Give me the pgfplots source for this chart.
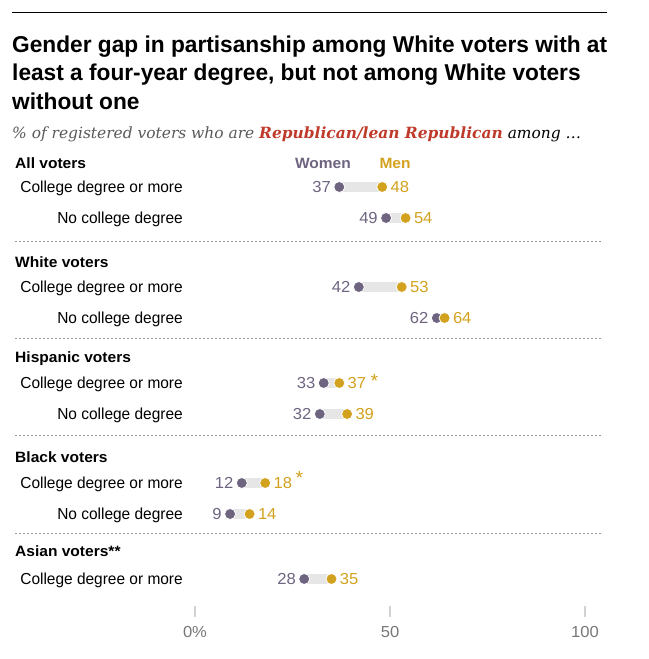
\documentclass[border=0pt]{standalone}
\usepackage{fontspec}
\usepackage{pgfplots}
\usepackage{pgfplotstable}
\pgfplotsset{compat=1.18}
\setmainfont{Liberation Sans}
\newfontfamily\titlefont[FakeStretch=0.99]{Liberation Sans}
\newfontfamily\bodyfont[FakeStretch=0.97]{Liberation Sans}
\newfontfamily\headfont[FakeStretch=1.04]{Liberation Sans}
\newfontfamily\subfont{DejaVu Serif}

\definecolor{women}{HTML}{6E6480}
\definecolor{men}{HTML}{D2A21E}
\definecolor{gapbar}{HTML}{E6E6E6}
\definecolor{repred}{HTML}{BF3A2B}
\definecolor{subgray}{HTML}{595959}
\definecolor{tickgray}{HTML}{777777}
\definecolor{rulegray}{HTML}{999999}

% y = row centre in pixels from the top
\pgfplotstableread{
y women men
187 37 48
218 49 54
287 42 53
318 62 64
383 33 37
414 32 39
483 12 18
514 9 14
579 28 35
}\gapdata

\tikzset{
  head/.style={anchor=base west, inner sep=0, font=\headfont\bfseries\fontsize{15}{18}\selectfont},
  rowlab/.style={anchor=base east, inner sep=0, font=\bodyfont\fontsize{16}{19}\selectfont},
  ttl/.style={anchor=base west, inner sep=0, font=\titlefont\bfseries\fontsize{23}{27}\selectfont},
  num/.style={inner sep=0, font=\headfont\fontsize{16}{19}\selectfont},
  star/.style={inner sep=0, text=men, font=\headfont\fontsize{19}{20}\selectfont},
}

\begin{document}
\begin{tikzpicture}
\begin{axis}[
  scale only axis,
  width=649bp, height=659bp,
  xmin=-50, xmax=116.41,
  ymin=0, ymax=659,
  y dir=reverse,
  axis lines=none,
  ticks=none,
  clip=false,
]
% fix the picture to the full frame
\path (axis cs:-50,0) rectangle (axis cs:116.41,659);

% top rule
\addplot[black, line width=1bp] coordinates {(-46.92,13) (105.64,13)};

% title and subtitle
\node[ttl] at (axis cs:-46.92,53) {Gender gap in partisanship among White voters with at};
\node[ttl] at (axis cs:-46.92,81) {least a four-year degree, but not among White voters};
\node[ttl] at (axis cs:-46.92,109) {without one};
\node[anchor=base west, inner sep=0, font=\subfont\itshape\fontsize{15.5}{18}\selectfont, text=subgray]
  at (axis cs:-46.92,138) {\% of registered voters who are \textcolor{repred}{\bfseries Republican/lean Republican} \textcolor{black}{among \dots}};

% legend
\node[font=\headfont\bfseries\fontsize{15}{18}\selectfont, text=women] at (axis cs:32.8,163) {Women};
\node[font=\headfont\bfseries\fontsize{15}{18}\selectfont, text=men] at (axis cs:51.3,163) {Men};

% group headers
\node[head] at (axis cs:-46.15,168) {All voters};
\node[head] at (axis cs:-46.15,267) {White voters};
\node[head] at (axis cs:-46.15,362) {Hispanic voters};
\node[head] at (axis cs:-46.15,462) {Black voters};
\node[head] at (axis cs:-46.15,556) {Asian voters**};

% row labels
\node[rowlab] at (axis cs:-3.08,192) {College degree or more};
\node[rowlab] at (axis cs:-3.08,223) {No college degree};
\node[rowlab] at (axis cs:-3.08,292) {College degree or more};
\node[rowlab] at (axis cs:-3.08,323) {No college degree};
\node[rowlab] at (axis cs:-3.08,388) {College degree or more};
\node[rowlab] at (axis cs:-3.08,419) {No college degree};
\node[rowlab] at (axis cs:-3.08,488) {College degree or more};
\node[rowlab] at (axis cs:-3.08,519) {No college degree};
\node[rowlab] at (axis cs:-3.08,584) {College degree or more};

% dotted separators
\pgfplotsinvokeforeach{241,338,435,533}{
  \draw[rulegray, line width=0.8bp, dash pattern=on 2bp off 2bp]
    (axis cs:-46.15,#1) -- (axis cs:104.62,#1);
}

% gap bars
\addplot[draw=none, mark=none,
  error bars/.cd, x dir=plus, x explicit,
  error mark=none, error bar style={gapbar, line width=10bp}]
  table[x=women, y=y, x error expr=\thisrow{men}-\thisrow{women}] {\gapdata};

% women dots
\addplot[only marks, mark=*, mark size=5.5bp,
  mark options={fill=women, draw=white, line width=0.8bp},
  nodes near coords, point meta=explicit symbolic,
  nodes near coords style={num, anchor=east, xshift=-8bp, text=women}]
  table[x=women, y=y, meta=women] {\gapdata};

% men dots
\addplot[only marks, mark=*, mark size=5.5bp,
  mark options={fill=men, draw=white, line width=0.8bp},
  nodes near coords, point meta=explicit symbolic,
  nodes near coords style={num, anchor=west, xshift=8bp, text=men}]
  table[x=men, y=y, meta=men] {\gapdata};

% significance asterisks
\node[star] at (axis cs:46.0,381) {*};
\node[star] at (axis cs:26.8,478) {*};

% x axis ticks
\addplot[gapbar!80!gray, line width=1.5bp] coordinates {(0,606) (0,617)};
\addplot[gapbar!80!gray, line width=1.5bp] coordinates {(50,606) (50,617)};
\addplot[gapbar!80!gray, line width=1.5bp] coordinates {(100,606) (100,617)};
\node[num, text=tickgray] at (axis cs:0,632) {0\%};
\node[num, text=tickgray] at (axis cs:50,632) {50};
\node[num, text=tickgray] at (axis cs:100,632) {100};
\end{axis}
\end{tikzpicture}
\end{document}
